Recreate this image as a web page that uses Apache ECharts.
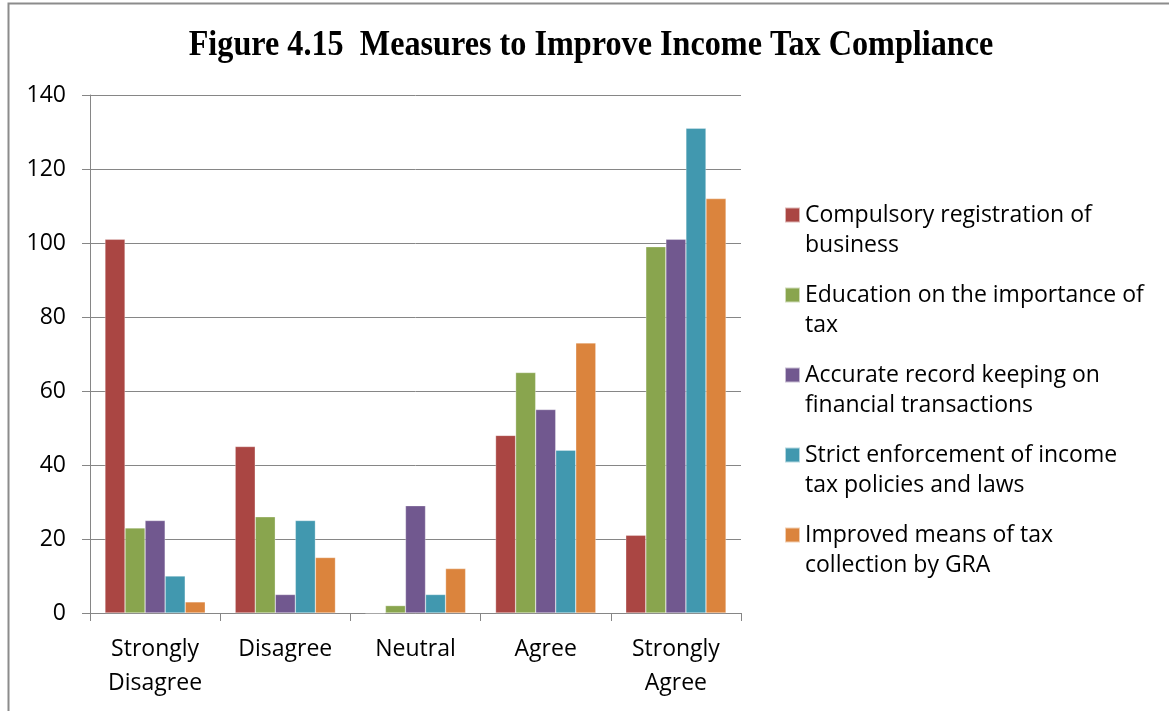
<!DOCTYPE html>
<html>
<head>
<meta charset="utf-8">
<title>Measures to Improve Income Tax Compliance</title>
<script src="https://cdn.jsdelivr.net/npm/echarts@6/dist/echarts.min.js"></script>
<style>
  html, body { margin: 0; padding: 0; background: #ffffff; }
  #chart { width: 1169px; height: 711px; }
</style>
</head>
<body>
<div id="chart"></div>
<script>
// Response categories on the x axis
const categories = ['Strongly\nDisagree', 'Disagree', 'Neutral', 'Agree', 'Strongly\nAgree'];

// One array per measure: number of respondents in each category
const compulsoryRegistration = [101, 45, 0, 48, 21];
const educationOnTax = [23, 26, 2, 65, 99];
const accurateRecordKeeping = [25, 5, 29, 55, 101];
const strictEnforcement = [10, 25, 5, 44, 131];
const improvedCollection = [3, 15, 12, 73, 112];

const seriesNames = [
  'Compulsory registration of\nbusiness',
  'Education on the importance of\ntax',
  'Accurate record keeping on\nfinancial transactions',
  'Strict enforcement of income\ntax policies and laws',
  'Improved means of tax\ncollection by GRA'
];
const seriesValues = [
  compulsoryRegistration,
  educationOnTax,
  accurateRecordKeeping,
  strictEnforcement,
  improvedCollection
];
const seriesColors = ['#AA4643', '#89A54E', '#71588F', '#4198AF', '#DB843D'];

const titleText = 'Figure 4.15  Measures to Improve Income Tax Compliance';

const labelFont = '"Open Sans", Lato, sans-serif';
const labelSize = 23;
const gridGray = '#868686';

const chart = echarts.init(document.getElementById('chart'), null, { renderer: 'canvas' });

chart.setOption({
  backgroundColor: '#ffffff',
  animation: false,
  graphic: [
    {
      // chart area frame
      type: 'rect',
      left: 6,
      top: 1,
      shape: { width: 1300, height: 800 },
      style: { fill: 'none', stroke: '#8c8c8c', lineWidth: 2 },
      silent: true
    },
    {
      type: 'text',
      x: 591,
      y: 46,
      scaleX: 0.92,
      style: {
        text: titleText,
        fontFamily: '"Liberation Serif", "Times New Roman", serif',
        fontWeight: 'bold',
        fontSize: 35,
        fill: '#000000',
        align: 'center',
        verticalAlign: 'middle'
      },
      silent: true
    }
  ],
  legend: {
    orient: 'vertical',
    left: 784,
    top: 170,
    padding: 0,
    itemWidth: 15,
    itemHeight: 15,
    itemGap: -10,
    icon: 'rect',
    selectedMode: false,
    // a leading empty line keeps each swatch level with the first line of its label
    formatter: name => '\n' + name,
    textStyle: {
      fontFamily: labelFont,
      fontSize: labelSize,
      color: '#000000',
      lineHeight: 30
    },
    data: seriesNames
  },
  grid: {
    left: 90,
    right: 428,
    top: 95,
    bottom: 98,
    containLabel: false
  },
  xAxis: {
    type: 'category',
    data: categories,
    axisLine: { show: true, lineStyle: { color: gridGray, width: 1 } },
    axisTick: {
      show: true,
      alignWithLabel: false,
      length: 8,
      lineStyle: { color: gridGray, width: 1 }
    },
    axisLabel: {
      interval: 0,
      margin: 19,
      fontFamily: labelFont,
      fontSize: labelSize,
      color: '#000000',
      lineHeight: 34
    },
    splitLine: { show: false }
  },
  yAxis: {
    type: 'value',
    min: 0,
    max: 140,
    interval: 20,
    axisLine: { show: true, lineStyle: { color: gridGray, width: 1 } },
    axisTick: { show: true, length: 8, lineStyle: { color: gridGray, width: 1 } },
    axisLabel: {
      margin: 24,
      fontFamily: labelFont,
      fontSize: labelSize,
      color: '#000000'
    },
    splitLine: { show: true, lineStyle: { color: gridGray, width: 1 } }
  },
  series: seriesNames.map((name, i) => ({
    name: name,
    type: 'bar',
    data: seriesValues[i],
    barGap: '0%',
    barCategoryGap: '23%',
    itemStyle: {
      color: seriesColors[i],
      borderColor: 'rgba(255,255,255,0.6)',
      borderWidth: 0.5
    },
    emphasis: { disabled: true }
  }))
});
</script>
</body>
</html>
